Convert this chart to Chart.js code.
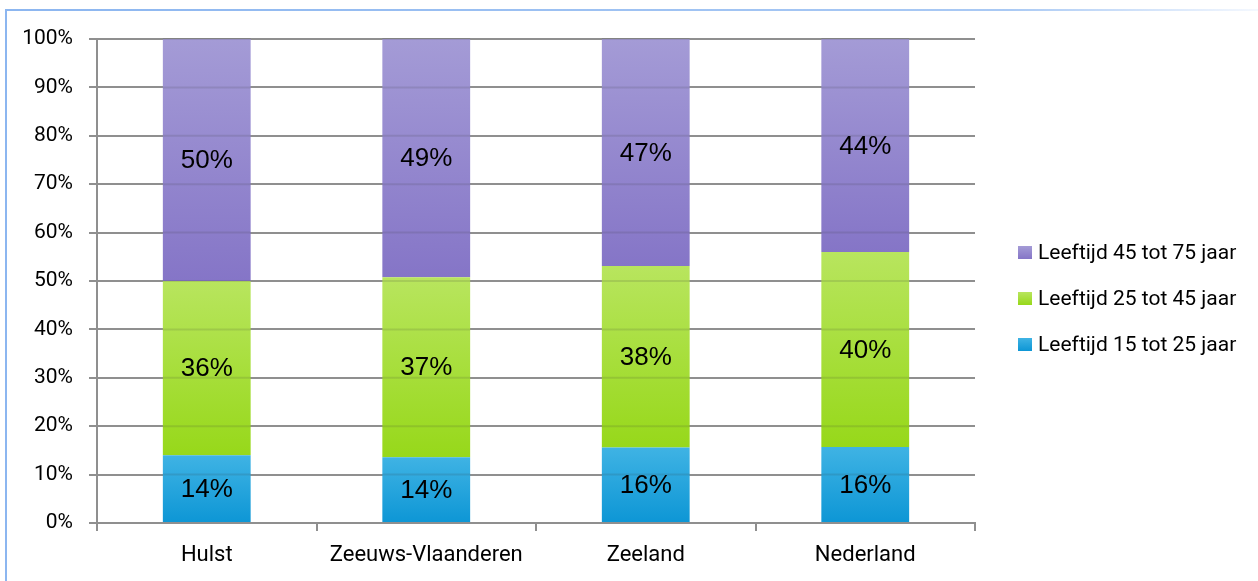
<!DOCTYPE html>
<html>
<head>
<meta charset="utf-8">
<script src="https://cdn.jsdelivr.net/npm/chart.js@4.4.1/dist/chart.umd.min.js"></script>
<style>
    html, body { margin: 0; padding: 0; background: #fff; }
    #wrap { position: relative; width: 1258px; height: 581px; overflow: hidden; }
    #chart { position: absolute; left: 0; top: 0; }
    #frame-left { position: absolute; left: 5px; top: 9px; width: 2px; height: 572px; background: #8cb6f0; }
    #frame-top { position: absolute; left: 5px; top: 9px; width: 1253px; height: 2px;
        background: linear-gradient(to right, #8cb6f0 0%, #a9c9f4 80%, #f4f8fe 100%); }
    #legend { position: absolute; left: 1018px; top: 229px; font-family: Roboto, sans-serif; font-size: 21px; color: #000; }
    #legend .item { height: 46px; display: flex; align-items: center; white-space: nowrap; }
    #legend .box { width: 14px; height: 13px; margin-right: 6px; }
</style>
</head>
<body>
<div id="wrap">
    <canvas id="chart" width="1258" height="581"></canvas>
    <div id="frame-left"></div>
    <div id="frame-top"></div>
    <div id="legend"></div>
</div>
<script>
const categories = ['Hulst', 'Zeeuws-Vlaanderen', 'Zeeland', 'Nederland'];
const age15to25 = [14.0, 13.6, 15.6, 15.7];
const age25to45 = [36.0, 37.2, 37.5, 40.3];
const age45to75 = [50.0, 49.2, 46.9, 44.0];
const yTickValues = [0, 10, 20, 30, 40, 50, 60, 70, 80, 90, 100];

const axisFont = 'Roboto, sans-serif';
const gridColor = '#8f8f8f';

const blue = ['#3fb3e4', '#0d96d5'];
const green = ['#b8e55e', '#97d81a'];
const purple = ['#a49bd6', '#8575c7'];

// each stacked segment gets its own top-to-bottom gradient
function segmentGradient(stops) {
    return (ctx) => {
        const chart = ctx.chart;
        const y = chart.scales.y;
        if (ctx.type !== 'data' || !y || !chart.chartArea) return stops[1];
        const sets = chart.data.datasets;
        let start = 0;
        for (let i = 0; i < ctx.datasetIndex; i++) start += sets[i].data[ctx.dataIndex];
        const end = start + sets[ctx.datasetIndex].data[ctx.dataIndex];
        const top = y.getPixelForValue(end);
        const bottom = y.getPixelForValue(start);
        if (!isFinite(top) || !isFinite(bottom)) return stops[1];
        const g = chart.ctx.createLinearGradient(0, top, 0, bottom);
        g.addColorStop(0, stops[0]);
        g.addColorStop(1, stops[1]);
        return g;
    };
}

// grid lines show faintly through the bars
const gridOverBars = {
    id: 'gridOverBars',
    afterDatasetsDraw(chart) {
        const c = chart.ctx;
        const y = chart.scales.y;
        const bars = chart.getDatasetMeta(0).data;
        c.save();
        c.strokeStyle = 'rgba(60, 60, 60, 0.14)';
        c.lineWidth = 2;
        bars.forEach((bar) => {
            const half = bar.width / 2;
            yTickValues.forEach((v) => {
                if (v === 0) return;
                const py = y.getPixelForValue(v);
                c.beginPath();
                c.moveTo(bar.x - half, py);
                c.lineTo(bar.x + half, py);
                c.stroke();
            });
        });
        c.restore();
    },
};

const barLabels = {
    id: 'barLabels',
    afterDatasetsDraw(chart) {
        const c = chart.ctx;
        c.save();
        c.font = '26px "Liberation Sans", Arial, sans-serif';
        c.fillStyle = '#000';
        c.textAlign = 'center';
        c.textBaseline = 'middle';
        chart.data.datasets.forEach((ds, di) => {
            chart.getDatasetMeta(di).data.forEach((bar, i) => {
                c.fillText(Math.round(ds.data[i]) + '%', bar.x, (bar.y + bar.base) / 2 + 1);
            });
        });
        c.restore();
    },
};

const datasets = [
    { label: 'Leeftijd 15 tot 25 jaar', data: age15to25, colors: blue },
    { label: 'Leeftijd 25 tot 45 jaar', data: age25to45, colors: green },
    { label: 'Leeftijd 45 tot 75 jaar', data: age45to75, colors: purple },
].map((d) => ({
    label: d.label,
    data: d.data,
    backgroundColor: segmentGradient(d.colors),
    borderWidth: 0,
    barPercentage: 0.8,
    categoryPercentage: 0.5,
    legendColors: d.colors,
}));

new Chart(document.getElementById('chart'), {
    type: 'bar',
    data: { labels: categories, datasets },
    plugins: [gridOverBars, barLabels],
    options: {
        responsive: false,
        animation: false,
        layout: { padding: { left: 0, top: 39, right: 283, bottom: 0 } },
        plugins: {
            legend: { display: false },
            tooltip: { enabled: false },
        },
        scales: {
            x: {
                stacked: true,
                grid: { drawOnChartArea: false, drawTicks: true, tickLength: 8, color: gridColor, lineWidth: 2, offset: true },
                border: { color: gridColor, width: 2 },
                ticks: { color: '#000', font: { family: axisFont, size: 22 }, padding: 11, autoSkip: false, maxRotation: 0, minRotation: 0 },
                afterFit: (s) => { s.height = 58; },
            },
            y: {
                stacked: true,
                min: 0,
                max: 100,
                afterBuildTicks: (axis) => { axis.ticks = yTickValues.map((v) => ({ value: v })); },
                grid: { color: gridColor, lineWidth: 2, tickLength: 8 },
                border: { color: gridColor, width: 2 },
                ticks: { color: '#000', font: { family: axisFont, size: 21 }, padding: 16, callback: (v) => v + '%' },
                afterFit: (s) => { s.width = 97; },
            },
        },
    },
});

// legend in reverse order, built from the datasets
const legend = document.getElementById('legend');
datasets.slice().reverse().forEach((ds) => {
    const item = document.createElement('div');
    item.className = 'item';
    const box = document.createElement('span');
    box.className = 'box';
    box.style.background = `linear-gradient(${ds.legendColors[0]}, ${ds.legendColors[1]})`;
    const text = document.createElement('span');
    text.textContent = ds.label;
    item.appendChild(box);
    item.appendChild(text);
    legend.appendChild(item);
});
</script>
</body>
</html>
